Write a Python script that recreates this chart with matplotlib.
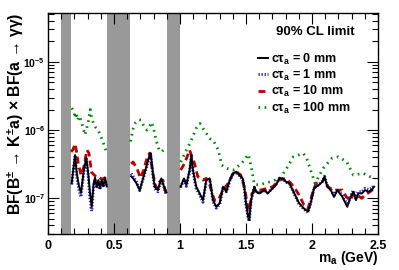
import numpy as np
import matplotlib
matplotlib.use("Agg")
import matplotlib.pyplot as plt
from matplotlib.ticker import MultipleLocator, LogLocator, NullFormatter

plt.rcParams['font.family'] = ['Liberation Sans', 'DejaVu Sans']
plt.rcParams['font.weight'] = 'bold'
plt.rcParams['mathtext.fontset'] = 'custom'
plt.rcParams['mathtext.rm'] = 'Liberation Sans:bold'
plt.rcParams['mathtext.it'] = 'Liberation Sans:bold'
plt.rcParams['mathtext.bf'] = 'Liberation Sans:bold'

#### Data (BF values in units of 1e-7, nan = gap between mass windows) ####
vetoBands = [(0.10, 0.175), (0.445, 0.62), (0.90, 1.00)]

m_0mm = [0.180, 0.190, 0.205, 0.218, 0.235, 0.250, 0.270, 0.290, 0.305, 0.318, 0.331, 0.345, 0.356, 0.369,
         0.381, 0.394, 0.407, 0.419, 0.432, 0.445, np.nan,
         0.630, 0.645, 0.670, 0.695, 0.720, 0.745, 0.770, 0.778, 0.795, 0.808, 0.833, 0.858, 0.879, 0.896, np.nan,
         1.005, 1.030, 1.048, 1.073, 1.086, 1.098, 1.123, 1.149, 1.174, 1.199, 1.225, 1.250, 1.275, 1.301,
         1.326, 1.351, 1.377, 1.402, 1.427, 1.449, 1.475, 1.487, 1.500, 1.517, 1.525, 1.538, 1.563, 1.576,
         1.601, 1.639, 1.664, 1.702, 1.727, 1.752, 1.778, 1.803, 1.828, 1.854, 1.879, 1.902, 1.939, 1.970,
         1.990, 2.015, 2.053, 2.078, 2.095, 2.116, 2.142, 2.167, 2.192, 2.230, 2.267, 2.293, 2.313, 2.333,
         2.351, 2.377, 2.402, 2.427, 2.452, 2.470]
bf_0mm = [1.66, 2.5, 4.3, 2.3, 1.5, 1.2, 2.5, 3.9, 2.3, 1.2, 0.76, 1.6, 2.0, 1.48,
          1.85, 1.4, 1.85, 1.5, 2.0, 1.5, np.nan,
          2.1, 1.96, 1.66, 1.32, 1.96, 2.9, 4.3, 4.6, 2.3, 1.48, 1.32, 1.96, 1.48, 1.22, np.nan,
          1.48, 1.96, 1.57, 2.6, 4.3, 2.6, 1.48, 1.18, 0.94, 1.85, 1.96, 0.94, 0.75, 0.85,
          1.48, 1.25, 1.85, 2.32, 2.45, 2.19, 1.96, 1.48, 0.85, 0.52, 0.48, 0.94, 1.48, 1.25,
          1.18, 1.32, 1.18, 1.40, 1.57, 1.96, 1.96, 1.75, 1.66, 1.32, 1.05, 0.85, 0.71, 0.64,
          0.85, 1.40, 1.57, 1.75, 2.07, 1.48, 1.32, 1.05, 1.32, 1.05, 0.75, 1.05, 1.25, 0.94,
          1.18, 1.18, 1.32, 1.25, 1.32, 1.48]
bf_1mm = [1.6, 2.4, 4.1, 2.1, 1.3, 1.05, 2.3, 3.8, 2.1, 1.0, 0.65, 1.5, 1.9, 1.4,
          1.75, 1.35, 1.8, 1.45, 1.9, 1.45, np.nan,
          2.3, 2.1, 1.75, 1.3, 1.9, 2.8, 4.1, 4.4, 2.2, 1.4, 1.25, 1.9, 1.45, 1.15, np.nan,
          1.45, 1.9, 1.5, 2.5, 4.2, 2.5, 1.4, 1.12, 0.88, 1.8, 1.9, 0.9, 0.72, 0.82,
          1.45, 1.25, 1.8, 2.3, 2.4, 2.15, 1.9, 1.42, 0.8, 0.5, 0.46, 0.92, 1.45, 1.25,
          1.2, 1.32, 1.2, 1.42, 1.6, 1.96, 1.92, 1.72, 1.62, 1.3, 1.02, 0.82, 0.69, 0.62,
          0.85, 1.42, 1.6, 1.78, 2.1, 1.5, 1.35, 1.1, 1.35, 1.1, 0.8, 1.1, 1.3, 1.0,
          1.25, 1.25, 1.4, 1.35, 1.4, 1.55]

m_10mm = [0.175, 0.190, 0.205, 0.215, 0.230, 0.250, 0.270, 0.295, 0.310, 0.330, 0.350, 0.370, 0.390, 0.410,
          0.430, 0.445, np.nan,
          0.630, 0.645, 0.675, 0.700, 0.725, 0.750, 0.770, 0.795, 0.820, 0.845, 0.870, 0.896, np.nan,
          1.005, 1.035, 1.073, 1.086, 1.110, 1.135, 1.174, 1.199, 1.225, 1.260, 1.290, 1.326, 1.365, 1.402,
          1.427, 1.460, 1.490, 1.510, 1.525, 1.545, 1.575, 1.610, 1.660, 1.702, 1.752, 1.803, 1.840, 1.879,
          1.902, 1.939, 1.970, 2.000, 2.030, 2.078, 2.095, 2.120, 2.160, 2.192, 2.230, 2.260, 2.293, 2.313,
          2.340, 2.377, 2.402, 2.440, 2.470]
bf_10mm = [4.8, 5.2, 6.3, 5.0, 3.2, 2.2, 2.8, 5.1, 4.6, 2.4, 2.2, 2.0, 2.0, 1.9,
           2.0, 1.8, np.nan,
           3.2, 3.4, 2.7, 2.0, 2.6, 3.9, 4.6, 2.3, 1.4, 1.75, 1.85, 1.1, np.nan,
           2.6, 3.25, 5.1, 4.3, 3.25, 2.07, 1.85, 1.96, 1.57, 0.94, 0.94, 1.32, 1.66, 2.32,
           2.45, 2.2, 1.4, 0.80, 0.67, 1.18, 1.32, 1.32, 1.40, 1.48, 1.85, 1.96, 1.66, 1.32,
           1.12, 0.80, 0.71, 1.12, 1.66, 1.75, 1.96, 1.48, 1.32, 1.32, 1.32, 1.05, 0.94, 1.18,
           1.12, 1.0, 1.12, 1.25, 1.40]

m_100mm = [0.180, 0.195, 0.205, 0.215, 0.225, 0.235, 0.250, 0.265, 0.280, 0.295, 0.305, 0.320, 0.330, 0.345,
           0.360, 0.380, 0.400, 0.415, 0.430, 0.440, np.nan,
           0.625, 0.645, 0.665, 0.690, 0.705, 0.725, 0.750, 0.770, 0.785, 0.800, 0.820, 0.840, 0.860, 0.880,
           0.890, np.nan,
           1.005, 1.030, 1.086, 1.123, 1.152, 1.174, 1.225, 1.252, 1.290, 1.316, 1.351, 1.404, 1.467, 1.517,
           1.538, 1.563, 1.600, 1.682, 1.758, 1.808, 1.858, 1.934, 1.960, 1.985, 2.023, 2.085, 2.149, 2.200,
           2.263, 2.313, 2.389, 2.465]
bf_100mm = [21.0, 19.0, 15.0, 18.0, 14.0, 16.0, 14.0, 11.0, 8.5, 11.0, 13.0, 20.0, 15.0, 12.5,
            11.0, 10.0, 8.0, 7.0, 5.5, 5.0, np.nan,
            6.8, 10.5, 13.0, 14.2, 14.0, 11.5, 10.0, 11.5, 13.0, 10.5, 7.0, 5.2, 4.8, 5.2,
            5.3, np.nan,
            3.4, 4.3, 7.1, 10.6, 12.5, 10.6, 7.55, 7.1, 5.1, 3.07, 2.75, 2.6, 3.25, 4.4,
            3.0, 1.6, 1.57, 1.75, 1.96, 2.75, 4.06, 4.56, 3.85, 2.75, 1.66, 2.75, 3.85, 4.06,
            3.43, 2.2, 2.32, 1.96]

unit = 1e-7

fig = plt.figure(figsize=(3.99, 2.70), dpi=100)
ax = fig.add_axes([48 / 399, 1 - 234 / 270, 330 / 399, 221 / 270])

for lo, hi in vetoBands:
  ax.axvspan(lo, hi, color='#999999', lw=0, zorder=1)

ax.plot(m_10mm, np.array(bf_10mm) * unit, color='#bb0000', lw=2.0, ls=(0, (2.5, 1.5)), zorder=3,
        label=r"c$\tau_a$ = 10 mm")
ax.plot(m_100mm, np.array(bf_100mm) * unit, color='#008800', lw=2.0, ls=(0, (0.6, 1.6)), zorder=3,
        label=r"c$\tau_a$ = 100 mm")
ax.plot(m_0mm, np.array(bf_1mm) * unit, color='#2222cc', lw=2.2, ls=(0, (0.4, 0.6)), zorder=4,
        label=r"c$\tau_a$ = 1 mm")
ax.plot(m_0mm, np.array(bf_0mm) * unit, color='black', lw=1.4, zorder=5,
        label=r"c$\tau_a$ = 0 mm")

ax.set_yscale('log')
ax.set_xlim(0, 2.5)
ax.set_ylim(3e-8, 5.2e-5)

ax.xaxis.set_major_locator(MultipleLocator(0.5))
ax.xaxis.set_minor_locator(MultipleLocator(0.1))
ax.set_xticks([0, 0.5, 1, 1.5, 2, 2.5])
ax.set_xticklabels(["0", "0.5", "1", "1.5", "2", "2.5"])
ax.yaxis.set_major_locator(LogLocator(base=10, numticks=10))
ax.yaxis.set_minor_locator(LogLocator(base=10, subs=np.arange(2, 10), numticks=20))
ax.yaxis.set_minor_formatter(NullFormatter())

ax.tick_params(which='both', direction='in', top=True, right=True, width=0.8)
ax.tick_params(axis='x', labelsize=9, pad=4)
ax.tick_params(axis='y', labelsize=7.5, pad=2)
ax.tick_params(which='major', length=8)
ax.tick_params(which='minor', length=4)
for s in ax.spines.values():
  s.set_linewidth(1.0)

ax.set_xlabel(r"m$_a$ (GeV)", fontsize=10, fontweight='bold', loc='right')
ax.xaxis.set_label_coords(1.0, -0.07)
ax.set_ylabel(r"BF(B$^{\pm}$ → K$^{\pm}$a) × BF(a → γγ)", fontsize=11.3, fontweight='bold', loc='top')
ax.yaxis.set_label_coords(-0.068, 1.0)

ax.text(0.93, 0.915, "90% CL limit", transform=ax.transAxes, fontsize=9.5, fontweight='bold',
        ha='right', va='center')

handles, labels = ax.get_legend_handles_labels()
order = [3, 2, 0, 1]
leg = ax.legend([handles[i] for i in order], [labels[i] for i in order], loc='upper right',
                bbox_to_anchor=(0.94, 0.86), frameon=False, fontsize=9, handlelength=0.8,
                handletextpad=0.25, labelspacing=0.1, borderpad=0.1)
for t in leg.get_texts():
  t.set_fontweight('bold')

plt.savefig("out.png", dpi=100)
